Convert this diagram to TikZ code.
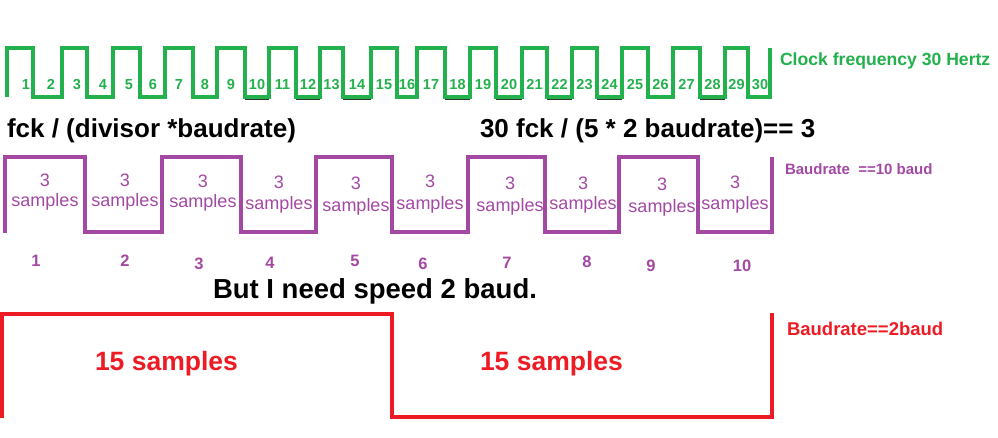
\documentclass[tikz,border=0pt]{standalone}
\usepackage{fontspec}
\setmainfont{Liberation Sans}
\definecolor{clk}{HTML}{22B14C}
\definecolor{pur}{HTML}{A349A4}
\definecolor{redw}{HTML}{ED1C24}
\begin{document}
\begin{tikzpicture}[x=1pt,y=-1pt,
  wave/.style={line width=3.5pt, line join=miter},
  txt/.style={inner sep=0pt, outer sep=0pt},
  head/.style={txt, anchor=base west, font=\fontsize{26}{26}\selectfont\bfseries},
  clknum/.style={txt, anchor=base, text=clk, font=\fontsize{14.5}{14.5}\selectfont\bfseries},
  samp/.style={txt, anchor=base, text=pur, font=\fontsize{18}{18}\selectfont},
  pnum/.style={txt, anchor=base, text=pur, font=\fontsize{16.5}{16.5}\selectfont\bfseries}]
\useasboundingbox (0,0) rectangle (998,437);
\fill[white] (0,0) rectangle (998,437);

% clock waveform
\draw[wave, clk] (7,97) |- (33,48) |- (62,97) |- (87,48) |- (113,97) |- (140,48)
  |- (165,97) |- (193,48) |- (217,97) |- (245,48) |- (269,97) |- (296,48)
  |- (320,97) |- (343,48) |- (371,97) |- (397,48) |- (417,97) |- (445,48)
  |- (470,97) |- (496,48) |- (522,97) |- (547,48) |- (572,97) |- (597,48)
  |- (622,97) |- (648,48) |- (673,97) |- (700,48) |- (725,97) |- (748,48)
  |- (770,97) -- (770,48);
\foreach \a/\b in {245/269,296/320,343/371,445/470,496/522,547/572,597/622,700/725}
  \draw[line width=1pt, black!80] (\a,99.5) -- (\b,99.5);
\foreach \x [count=\i] in {26,51,77,103,129,153,179,205,231,257,282.5,308,331.5,357,384,
    407,431,457.5,483,509,534.5,559.5,584.5,609.5,635,660.5,686.5,712.5,736.5,760}
  \node[clknum] (c\i) at (\x,89) {\i};
\node[txt, anchor=base west, text=clk, font=\fontsize{17.6}{17.6}\selectfont\bfseries]
  (clklabel) at (780,65) {Clock frequency 30 Hertz};

% formulas
\node[head] (f1) at (7,137) {fck / (divisor *baudrate)};
\node[head] (f2) at (480,137) {30 fck / (5 * 2 baudrate)== 3};

% baud 10 waveform
\draw[wave, pur] (5,233) |- (85,157) |- (162,232) |- (241,157) |- (316,232)
  |- (392,157) |- (468,232) |- (545,157) |- (619,232) |- (698,157)
  |- (772,232) -- (772,157);
\foreach \x/\ya/\yb [count=\i] in {45/186/206,125/186/206,203/187/207,279/188/209,356/189/211,
    430/187/209,510/189/211,583/189/209,662/190/212,735/188/209} {
  \node[samp] (t\i) at (\x,\ya) {3};
  \node[samp] (s\i) at (\x,\yb) {samples};
}
\foreach \x/\y [count=\i] in {36/266,125/266,199/269,270/268,355/266,423/269,507/268,587/267,651/271,742/271}
  \node[pnum] (n\i) at (\x,\y) {\i};
\node[txt, anchor=base west, text=pur, font=\fontsize{15}{15}\selectfont\bfseries]
  (purlabel) at (785,174) {Baudrate\ \ ==10 baud};

% need 2 baud
\node[txt, anchor=base west, font=\fontsize{27.5}{27.5}\selectfont\bfseries]
  (need) at (213,298) {But I need speed 2 baud.};

% baud 2 waveform
\draw[wave, redw] (2,418) |- (392,314) |- (772,417) -- (772,313);
\node[txt, anchor=base west, text=redw, font=\fontsize{26.5}{26.5}\selectfont\bfseries]
  (r1) at (95,370) {15 samples};
\node[txt, anchor=base west, text=redw, font=\fontsize{26.5}{26.5}\selectfont\bfseries]
  (r2) at (480,370) {15 samples};
\node[txt, anchor=base west, text=redw, font=\fontsize{18.5}{18.5}\selectfont\bfseries]
  (redlabel) at (787,335) {Baudrate==2baud};
\end{tikzpicture}
\end{document}
